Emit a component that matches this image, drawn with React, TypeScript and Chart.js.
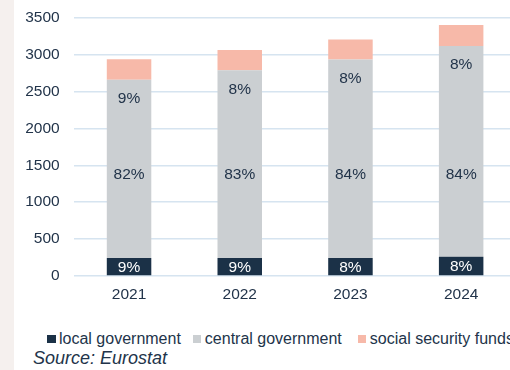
import React, { useEffect, useRef } from "react";
import { Chart, registerables } from "chart.js";

Chart.register(...registerables);

const years = ["2021", "2022", "2023", "2024"];
const localGov = [245, 245, 245, 262];
const centralGov = [2413, 2543, 2687, 2856];
const socialFunds = [278, 276, 271, 283];
const localPct = ["9%", "9%", "8%", "8%"];
const centralPct = ["82%", "83%", "84%", "84%"];
const socialPct = ["9%", "8%", "8%", "8%"];
const yTicks = [0, 500, 1000, 1500, 2000, 2500, 3000, 3500];
const centralLabelValue = 1369;

const NAVY = "#1b3147";
const GREY = "#cbcfd2";
const PINK = "#f7b9a9";
const TEXT = "#22344a";
const GRID = "#d6e4f0";
const FONT = "'Liberation Sans', Arial, sans-serif";

const labelPlugin = {
  id: "segLabels",
  afterDatasetsDraw(chart: any) {
    const ctx = chart.ctx;
    const yScale = chart.scales.y;
    ctx.save();
    ctx.font = `15.5px ${FONT}`;
    ctx.textAlign = "center";
    ctx.textBaseline = "middle";
    const m0 = chart.getDatasetMeta(0);
    const m1 = chart.getDatasetMeta(1);
    const m2 = chart.getDatasetMeta(2);
    m0.data.forEach((bar: any, i: number) => {
      ctx.fillStyle = "#ffffff";
      ctx.fillText(localPct[i], bar.x, (bar.y + bar.base) / 2 + 1);
    });
    m1.data.forEach((bar: any, i: number) => {
      ctx.fillStyle = TEXT;
      ctx.fillText(centralPct[i], bar.x, yScale.getPixelForValue(centralLabelValue));
    });
    m2.data.forEach((bar: any, i: number) => {
      ctx.fillStyle = TEXT;
      ctx.fillText(socialPct[i], bar.x, bar.base + 19);
    });
    ctx.restore();
  },
};

export default function App() {
  const ref = useRef<HTMLCanvasElement | null>(null);

  useEffect(() => {
    document.body.style.margin = "0";
    const canvas = ref.current!;
    const chart = new Chart(canvas, {
      type: "bar",
      data: {
        labels: years,
        datasets: [
          { label: "local government", data: localGov, backgroundColor: NAVY },
          { label: "central government", data: centralGov, backgroundColor: GREY },
          { label: "social security funds", data: socialFunds, backgroundColor: PINK },
        ],
      },
      options: {
        animation: false,
        responsive: false,
        devicePixelRatio: 1,
        layout: { padding: { left: 14, right: 3.5, top: 17.7, bottom: 6 } },
        datasets: { bar: { barPercentage: 0.402, categoryPercentage: 1 } },
        plugins: { legend: { display: false }, tooltip: { enabled: false } },
        scales: {
          x: {
            stacked: true,
            grid: { display: false, drawTicks: false },
            border: { display: false },
            ticks: { color: TEXT, font: { family: FONT, size: 15.5 }, padding: 9 },
            afterFit: (s: any) => {
              s.height = 28;
            },
          },
          y: {
            stacked: true,
            min: 0,
            max: 3500,
            afterBuildTicks: (s: any) => {
              s.ticks = yTicks.map((v) => ({ value: v }));
            },
            grid: { color: GRID, lineWidth: 1.5, drawTicks: false },
            border: { display: false },
            ticks: {
              color: TEXT,
              font: { family: FONT, size: 15.5 },
              padding: 14,
              callback: (v: any) => String(v),
            },
            afterFit: (s: any) => {
              s.width = 59.7;
              s.paddingTop = 0;
              s.paddingBottom = 0;
            },
          },
        },
      },
      plugins: [labelPlugin],
    });
    return () => chart.destroy();
  }, []);

  const item = (color: string, text: string, ml: number) => (
    <div style={{ display: "flex", alignItems: "center", marginLeft: ml }}>
      <span style={{ display: "inline-block", width: 8.5, height: 8.5, background: color, marginRight: 3.5 }} />
      <span>{text}</span>
    </div>
  );

  return (
    <div style={{ position: "relative", width: 510, height: 370, overflow: "hidden", background: "#ffffff" }}>
      <div style={{ position: "absolute", left: 0, top: 0, width: 14, height: 370, background: "#f5f0ee" }} />
      <canvas ref={ref} width={520} height={310} style={{ position: "absolute", left: 0, top: 0, width: 520, height: 310 }} />
      <div
        style={{
          position: "absolute",
          left: 47,
          top: 330,
          display: "flex",
          whiteSpace: "nowrap",
          fontFamily: FONT,
          fontSize: 16,
          lineHeight: "18px",
          color: TEXT,
        }}
      >
        {item(NAVY, "local government", 0)}
        {item(GREY, "central government", 12)}
        {item(PINK, "social security funds", 16)}
      </div>
      <div
        style={{
          position: "absolute",
          left: 33,
          top: 348,
          fontFamily: FONT,
          fontSize: 18,
          lineHeight: "20px",
          fontStyle: "italic",
          color: TEXT,
          whiteSpace: "nowrap",
        }}
      >
        Source: Eurostat
      </div>
    </div>
  );
}
